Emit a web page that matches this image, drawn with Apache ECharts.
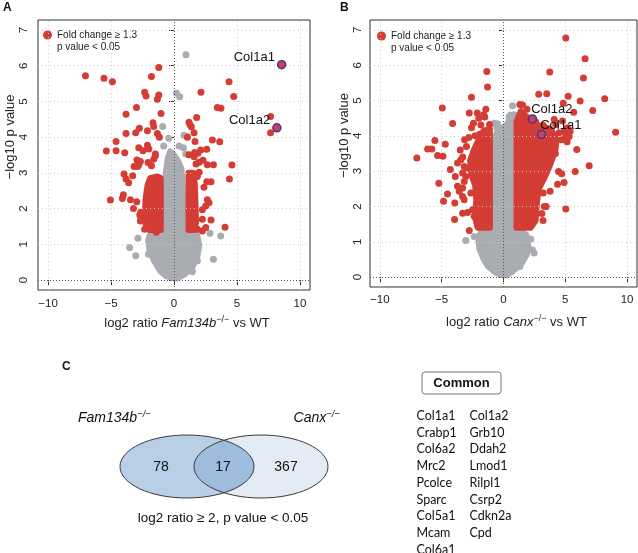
<!DOCTYPE html>
<html>
<head>
<meta charset="utf-8">
<script src="https://cdn.jsdelivr.net/npm/echarts@6/dist/echarts.min.js"></script>
<style>
  html, body { margin: 0; padding: 0; background: #fff; }
  #chart { width: 638px; height: 553px; }
</style>
</head>
<body>
<div id="chart"></div>
<script>
// ---- data ----
const xTicks = [-10, -5, 0, 5, 10]
const yTicks = [0, 1, 2, 3, 4, 5, 6, 7]

// panel A: Fam134b-/- vs WT
const grayPtsA = [[0.95, 6.31], [0.21, 5.23], [0.45, 5.13], [0.79, 4.05], [1.06, 4.02], [0.4, 3.75], [0.75, 3.7],
  [0.93, 3.53], [-0.42, 3.97], [-0.9, 4.3], [-0.82, 3.75], [-2.86, 1.17], [-3.52, 0.91], [-3.04, 0.68], [-2.03, 0.72],
  [2.86, 1.31], [3.71, 1.23], [3.13, 0.58], [1.86, 0.54], [1.46, 0.23]]
const grayCoreA = [[0, 0.05], [-0.6, 0.1], [-1.1, 0.25], [-1.6, 0.55], [-1.95, 0.85], [-2.05, 1.1], [-1.9, 1.3],
  [-1.2, 1.4], [-0.75, 1.6], [-0.7, 2.5], [-0.65, 3.0], [-0.5, 3.4], [-0.3, 3.6], [0.0, 3.5], [0.3, 3.35], [0.6, 3.1],
  [0.7, 2.5], [0.75, 1.6], [1.2, 1.35], [1.85, 1.25], [2.0, 0.95], [1.85, 0.65], [1.45, 0.35], [0.8, 0.15], [0.3, 0.05]]
const redPtsA = [[-7.03, 5.72], [-5.56, 5.65], [-4.89, 5.55], [-1.21, 5.95], [-1.79, 5.70], [-2.33, 5.26], [-2.22, 5.15],
  [-1.21, 5.18], [-1.32, 5.06], [-2.98, 4.83], [-3.81, 4.64], [-1.03, 4.66], [-1.67, 4.40], [-1.61, 4.30], [-2.75, 4.25],
  [-2.11, 4.18], [-3.04, 4.12], [-3.81, 4.10], [-1.32, 4.10], [-1.16, 4.00], [-4.6, 3.88], [-2.80, 3.70], [-2.11, 3.77],
  [-2.0, 3.67], [-5.37, 3.61], [-4.6, 3.62], [-3.91, 3.56], [-2.46, 3.62], [-1.48, 3.53], [-5.05, 2.24], [-4.02, 2.39],
  [-4.1, 2.28], [-3.46, 2.25], [-2.96, 2.19], [-3.22, 2.0], [-3.97, 2.97], [-3.81, 2.83], [-3.6, 2.72], [-3.28, 2.92],
  [-2.88, 3.18], [-2.94, 3.36], [-2.67, 3.32], [-2.8, 3.23], [-2.06, 3.29], [-1.79, 3.2], [-1.61, 3.38], [-1.48, 3.48],
  [-2.72, 1.82], [-2.67, 1.65], [-2.33, 1.42], [-1.9, 1.42], [-1.4, 1.34], [-3.17, 3.18], [-2.64, 1.9], [-2.62, 1.7],
  [4.37, 5.55], [4.74, 5.14], [2.14, 5.26], [3.44, 4.83], [3.73, 4.81], [1.8, 4.55], [1.19, 4.42], [1.27, 4.35],
  [1.38, 4.29], [1.59, 4.12], [1.06, 4.0], [1.67, 3.88], [3.05, 3.92], [3.63, 3.87], [2.12, 3.64], [2.6, 3.66],
  [1.64, 3.57], [1.19, 3.51], [7.67, 4.58], [7.67, 4.12], [1.6, 3.45], [1.9, 3.55], [2.3, 3.35], [2.0, 3.3],
  [1.75, 3.25], [2.65, 3.23], [3.13, 3.23], [4.6, 3.22], [4.4, 2.83], [2.6, 2.75], [2.94, 2.75], [2.38, 2.6],
  [1.72, 2.97], [2.0, 3.02], [1.85, 2.9], [2.65, 2.25], [2.78, 2.16], [2.52, 2.07], [2.25, 1.97], [2.25, 1.7],
  [2.94, 1.68], [4.05, 1.48], [2.52, 1.47], [2.25, 1.37], [1.86, 1.42]]
const redCoreA = [
  [[-1.05, 1.4], [-1.9, 1.4], [-2.25, 1.55], [-2.3, 1.9], [-2.25, 2.3], [-2.1, 2.65], [-1.9, 2.85], [-1.3, 2.9], [-1.05, 2.85]],
  [[1.15, 1.4], [1.6, 1.4], [1.75, 1.6], [1.7, 2.2], [1.65, 2.7], [1.5, 3.0], [1.15, 3.0]]
]
const hiNamesA = ['Col1a1', 'Col1a2']
const hiPtsA = [[8.55, 6.03], [8.17, 4.26]]

// panel B: Canx-/- vs WT
const grayPtsB = [[-3.05, 1.04], [-2.37, 1.15], [2.21, 1.08], [2.08, 0.79], [2.34, 0.77], [2.48, 0.68], [1.32, 0.3],
  [0.73, 4.85], [0.86, 4.6], [0.46, 4.55], [-0.75, 4.36], [-0.49, 4.34], [-0.54, 4.23], [-0.35, 4.09]]
const grayCoreB = [[-0.05, 0.05], [-0.6, 0.12], [-1.25, 0.3], [-1.6, 0.5], [-1.95, 0.8], [-2.05, 1.1], [-1.8, 1.3],
  [-1.1, 1.35], [-0.7, 1.6], [-0.7, 3.6], [-0.65, 4.0], [-0.4, 4.2], [0.0, 4.25], [0.35, 4.35], [0.55, 4.6], [0.65, 4.45],
  [0.6, 4.0], [0.6, 1.6], [1.0, 1.35], [1.85, 1.2], [2.0, 0.9], [1.9, 0.65], [1.45, 0.38], [0.7, 0.15], [0.2, 0.05]]
const redPtsB = [[-7.01, 3.37], [-6.14, 3.63], [-5.8, 3.63], [-5.55, 3.87], [-5.33, 3.44], [-4.9, 3.42], [-4.71, 3.76],
  [-4.95, 4.79], [-4.12, 4.35], [-5.23, 2.66], [-4.53, 2.35], [-4.85, 2.15], [-3.94, 2.1], [-3.31, 1.81], [-3.96, 1.63],
  [-2.77, 1.32], [-2.59, 5.09], [-1.35, 5.82], [-1.29, 5.38], [-2.77, 4.65], [-2.12, 4.65], [-1.43, 4.75], [-1.51, 4.53],
  [-2.43, 4.36], [-1.83, 4.31], [-1.13, 4.32], [-2.59, 4.23], [-3.15, 3.89], [-3.72, 3.23], [-3.45, 3.32], [-3.18, 3.13],
  [-2.91, 3.09], [-3.31, 2.95], [-3.05, 2.85], [-3.18, 2.71], [-3.72, 2.57], [-3.58, 2.43], [-3.31, 2.52], [-3.31, 2.28],
  [-3.18, 2.19], [-2.64, 2.38], [-2.5, 1.91], [-2.91, 1.83], [-2.37, 1.72], [-3.5, 3.6], [-3.0, 3.7], [-2.8, 3.95],
  [-2.3, 4.0], [-1.9, 4.05], [-2.0, 4.5], [-1.6, 4.6], [-3.3, 3.4], [-4.3, 3.05], [-3.9, 2.85],
  [5.04, 6.77], [6.6, 6.18], [6.47, 5.64], [3.74, 5.81], [2.85, 5.18], [3.5, 5.19], [5.23, 5.12], [6.2, 4.99],
  [8.19, 5.05], [7.22, 4.72], [9.07, 4.10], [4.83, 4.92], [5.93, 3.61], [6.93, 3.15], [5.8, 2.99], [4.9, 2.68],
  [5.04, 1.93], [4.1, 4.46], [4.9, 4.12], [5.31, 3.98], [4.71, 3.89], [1.32, 4.89], [1.54, 4.87], [5.68, 4.67],
  [4.23, 4.32], [4.77, 4.42], [5.17, 4.23], [4.5, 4.09], [5.04, 3.99], [5.39, 4.12], [5.15, 3.83], [4.37, 2.63],
  [3.77, 2.43], [3.45, 2.0], [4.45, 2.99], [4.71, 2.93], [3.21, 2.38], [3.1, 1.8], [3.2, 1.6], [3.3, 2.0],
  [1.5, 4.6], [2.0, 4.5], [2.6, 4.4], [3.2, 4.3], [3.6, 4.1], [3.9, 3.8], [4.2, 3.5], [1.9, 4.75]]
const redCoreB = [
  [[-1.1, 1.4], [-2.1, 1.4], [-2.3, 1.7], [-2.2, 2.2], [-2.3, 2.6], [-2.6, 2.9], [-2.7, 3.3], [-2.4, 3.6], [-2.0, 3.9],
    [-1.6, 4.15], [-1.1, 4.2]],
  [[1.05, 1.4], [2.2, 1.4], [2.6, 1.6], [2.7, 2.1], [2.85, 2.5], [3.3, 2.8], [3.8, 3.2], [4.2, 3.6], [4.3, 3.9],
    [3.8, 4.2], [2.8, 4.3], [2.0, 4.5], [1.4, 4.7], [1.05, 4.4]]
]
const hiNamesB = ['Col1a2', 'Col1a1']
const hiPtsB = [[2.34, 4.48], [3.07, 4.04]]

// panel C
const vennSets = ['Fam134b', 'Canx']
const vennCounts = [78, 17, 367]
const vennNote = 'log2 ratio ≥ 2, p value < 0.05'
const commonCol1 = ['Col1a1', 'Crabp1', 'Col6a2', 'Mrc2', 'Pcolce', 'Sparc', 'Col5a1', 'Mcam', 'Col6a1']
const commonCol2 = ['Col1a2', 'Grb10', 'Ddah2', 'Lmod1', 'Rilpl1', 'Csrp2', 'Cdkn2a', 'Cpd']

// ---- styling ----
const FONT = '"Liberation Sans", Arial, Helvetica, sans-serif'
const RED = '#d43d36'
const GRAY = '#a9acb1'
const minus = v => String(v).replace('-', '\u2212')

function axisPair (i, gap) {
  const label = i === 0 ? 'Fam134b' : 'Canx'
  const x = {
    gridIndex: i,
    type: 'value',
    min: -10.8,
    max: 10.8,
    axisLine: { show: false },
    splitLine: { show: false },
    axisTick: { customValues: xTicks, length: 5, lineStyle: { color: '#333' } },
    axisLabel: { customValues: xTicks, formatter: minus, margin: gap.xl, fontSize: 11.5, color: '#222', fontFamily: FONT },
    name: '{n|log2 ratio }{i|' + label + '}{s|\u2212/\u2212}{n| vs WT}',
    nameLocation: 'middle',
    nameGap: gap.xn,
    nameTextStyle: {
      padding: [0, 0, 0, 26],
      rich: {
        n: { fontSize: 13, color: '#222', fontFamily: FONT, lineHeight: 16 },
        i: { fontSize: 13, color: '#222', fontFamily: FONT, fontStyle: 'italic', lineHeight: 16 },
        s: { fontSize: 9, color: '#222', fontFamily: FONT, verticalAlign: 'top', lineHeight: 10 }
      }
    }
  }
  const y = {
    gridIndex: i,
    type: 'value',
    min: -0.28,
    max: 7.28,
    axisLine: { show: false },
    splitLine: { show: false },
    axisTick: { customValues: yTicks, length: 5, lineStyle: { color: '#333' } },
    axisLabel: { customValues: yTicks, rotate: 90, margin: gap.yl, fontSize: 11.5, color: '#222', fontFamily: FONT },
    name: '\u2212log10 p value',
    nameLocation: 'middle',
    nameGap: gap.yn,
    nameTextStyle: { fontSize: 13, color: '#222', fontFamily: FONT, padding: [0, 0, 0, 36] }
  }
  return [x, y]
}

function polySeries (i, pts, color, z) {
  return {
    type: 'custom',
    xAxisIndex: i,
    yAxisIndex: i,
    silent: true,
    z: z,
    data: [0],
    renderItem: function (params, api) {
      return {
        type: 'polygon',
        shape: { points: pts.map(p => api.coord(p)) },
        style: { fill: color, stroke: color, lineWidth: 6, lineJoin: 'round' }
      }
    }
  }
}

function panelSeries (i, grayPts, grayCore, redPts, redCore, hiNames, hiPts, redName, labelPos) {
  const s = []
  // dotted grid + zero lines
  s.push({
    type: 'scatter', xAxisIndex: i, yAxisIndex: i, data: [], z: 1, silent: true,
    markLine: {
      silent: true, symbol: 'none', label: { show: false }, animation: false,
      lineStyle: { type: [1, 3], color: '#cccccc', width: 1 },
      data: xTicks.filter(v => v !== 0).map(v => ({ xAxis: v })).concat(yTicks.filter(v => v !== 0).map(v => ({ yAxis: v })))
    }
  })
  s.push({
    type: 'scatter', xAxisIndex: i, yAxisIndex: i, data: [], z: 1, silent: true,
    markLine: {
      silent: true, symbol: 'none', label: { show: false }, animation: false,
      lineStyle: { type: [1, 2], color: '#555', width: 1 },
      data: [{ xAxis: 0 }, { yAxis: 0 }]
    }
  })
  s.push(polySeries(i, grayCore, GRAY, 2))
  s.push({
    type: 'scatter', xAxisIndex: i, yAxisIndex: i, z: 3, silent: true,
    symbolSize: 7, itemStyle: { color: GRAY, opacity: 1 }, data: grayPts
  })
  redCore.forEach(p => s.push(polySeries(i, p, RED, 4)))
  s.push({
    name: redName, type: 'scatter', xAxisIndex: i, yAxisIndex: i, z: 5, silent: true,
    symbolSize: 7, itemStyle: { color: RED, opacity: 1 }, data: redPts
  })
  s.push({
    type: 'scatter', xAxisIndex: i, yAxisIndex: i, z: 6, silent: true,
    symbolSize: 8,
    itemStyle: { color: '#c9405f', borderColor: '#45388a', borderWidth: 1.5, opacity: 1 },
    label: {
      show: true, formatter: '{b}', fontSize: 13, color: '#111', fontFamily: FONT,
      position: labelPos.position, distance: labelPos.distance, offset: labelPos.offset
    },
    data: hiPts.map((p, k) => ({ name: hiNames[k], value: p }))
  })
  return s
}

// ---- venn lens (intersection of two ellipses) ----
const venn = { cy: 466.5, rx: 67, ry: 31.5, cxL: 187, cxR: 261 }
function lensPoints () {
  const d = (venn.cxR - venn.cxL) / 2
  const t0 = Math.acos(d / venn.rx)
  const pts = []
  for (let k = 0; k <= 40; k++) {
    const t = -t0 + (2 * t0) * k / 40
    pts.push([venn.cxL + venn.rx * Math.cos(t), venn.cy + venn.ry * Math.sin(t)])
  }
  for (let k = 0; k <= 40; k++) {
    const t = Math.PI - t0 + (2 * t0) * k / 40
    pts.push([venn.cxR + venn.rx * Math.cos(t), venn.cy + venn.ry * Math.sin(t)])
  }
  return pts
}

const txt = (x, y, text, extra) => ({
  type: 'text', x: x, y: y, silent: true,
  style: Object.assign({ text: text, fill: '#111', font: '13px ' + FONT, align: 'left', verticalAlign: 'middle' }, extra || {})
})

const graphics = [
  txt(3, 8, 'A', { font: 'bold 12px ' + FONT }),
  txt(340, 8, 'B', { font: 'bold 12px ' + FONT }),
  txt(62, 367, 'C', { font: 'bold 12px ' + FONT }),
  { type: 'ellipse', silent: true, shape: { cx: venn.cxR, cy: venn.cy, rx: venn.rx, ry: venn.ry }, style: { fill: '#e3ebf5', stroke: 'none' } },
  { type: 'ellipse', silent: true, shape: { cx: venn.cxL, cy: venn.cy, rx: venn.rx, ry: venn.ry }, style: { fill: '#b9cfe6', stroke: 'none' } },
  { type: 'polygon', silent: true, shape: { points: lensPoints() }, style: { fill: '#9ebcdc', stroke: 'none' } },
  { type: 'ellipse', silent: true, shape: { cx: venn.cxR, cy: venn.cy, rx: venn.rx, ry: venn.ry }, style: { fill: 'none', stroke: '#3a3a3a', lineWidth: 1 } },
  { type: 'ellipse', silent: true, shape: { cx: venn.cxL, cy: venn.cy, rx: venn.rx, ry: venn.ry }, style: { fill: 'none', stroke: '#3a3a3a', lineWidth: 1 } },
  txt(161, 467, String(vennCounts[0]), { font: '14px ' + FONT, align: 'center' }),
  txt(223, 467, String(vennCounts[1]), { font: '14px ' + FONT, align: 'center' }),
  txt(286, 467, String(vennCounts[2]), { font: '14px ' + FONT, align: 'center' }),
  {
    type: 'text', x: 78, y: 418, silent: true,
    style: {
      text: '{i|' + vennSets[0] + '}{s|\u2212/\u2212}', align: 'left', verticalAlign: 'middle',
      rich: {
        i: { fontSize: 14, fontStyle: 'italic', fontFamily: FONT, fill: '#111', lineHeight: 17 },
        s: { fontSize: 9.5, fontStyle: 'italic', fontFamily: FONT, fill: '#111', verticalAlign: 'top', lineHeight: 10 }
      }
    }
  },
  {
    type: 'text', x: 340, y: 418, silent: true,
    style: {
      text: '{i|' + vennSets[1] + '}{s|\u2212/\u2212}', align: 'right', verticalAlign: 'middle',
      rich: {
        i: { fontSize: 14, fontStyle: 'italic', fontFamily: FONT, fill: '#111', lineHeight: 17 },
        s: { fontSize: 9.5, fontStyle: 'italic', fontFamily: FONT, fill: '#111', verticalAlign: 'top', lineHeight: 10 }
      }
    }
  },
  txt(223, 518, vennNote, { font: '13.5px ' + FONT, align: 'center' }),
  { type: 'rect', silent: true, shape: { x: 422, y: 372, width: 79, height: 22, r: 3 }, style: { fill: '#fff', stroke: '#777', lineWidth: 1 } },
  txt(461.5, 383, 'Common', { font: 'bold 13px ' + FONT, align: 'center' })
]
commonCol1.forEach((g, k) => graphics.push(txt(416.5, 416 + k * 16.7, g, { font: '12.5px Lato, ' + FONT })))
commonCol2.forEach((g, k) => graphics.push(txt(469.5, 416 + k * 16.7, g, { font: '12.5px Lato, ' + FONT })))

const legendText = '{a|Fold change \u2265 1.3}\n{a|p value < 0.05}'
function legendFor (name, left, top) {
  return {
    data: [name], left: left, top: top, padding: 0, icon: 'circle', itemWidth: 9, itemHeight: 9,
    selectedMode: false,
    formatter: () => legendText,
    textStyle: { padding: [12, 0, 0, 0], rich: { a: { fontSize: 10, lineHeight: 12, color: '#222', fontFamily: FONT } } }
  }
}

const axA = axisPair(0, { xl: 8, xn: 25, yl: 8, yn: 21 })
const axB = axisPair(1, { xl: 7, xn: 27, yl: 6, yn: 17 })

const option = {
  animation: false,
  backgroundColor: '#fff',
  grid: [
    { left: 38, top: 20, width: 272, height: 270, show: true, borderColor: '#333', borderWidth: 1, backgroundColor: 'transparent' },
    { left: 370, top: 20, width: 267, height: 267, show: true, borderColor: '#333', borderWidth: 1, backgroundColor: 'transparent' }
  ],
  xAxis: [axA[0], axB[0]],
  yAxis: [axA[1], axB[1]],
  legend: [legendFor('sigA', 43, 30), legendFor('sigB', 377, 31)],
  graphic: graphics,
  series: [].concat(
    panelSeries(0, grayPtsA, grayCoreA, redPtsA, redCoreA, hiNamesA, hiPtsA, 'sigA',
      { position: 'left', distance: 2, offset: [0, -7] }),
    panelSeries(1, grayPtsB, grayCoreB, redPtsB, redCoreB, hiNamesB, hiPtsB, 'sigB',
      { position: 'right', distance: 0, offset: [-6, -9] })
  )
}

const myChart = echarts.init(document.getElementById('chart'), null, { renderer: 'canvas' })
myChart.setOption(option)
window.addEventListener('resize', function () {
  myChart.resize()
})
</script>
</body>
</html>
